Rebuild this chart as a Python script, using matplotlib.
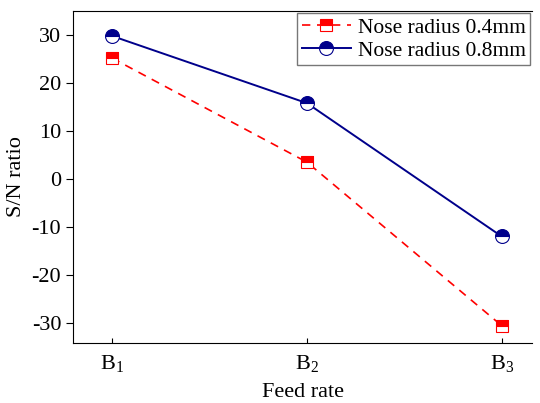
import matplotlib.pyplot as plt

plt.rcParams['font.family'] = ['Liberation Serif', 'DejaVu Serif']
plt.rcParams['mathtext.fontset'] = 'custom'
plt.rcParams['mathtext.rm'] = 'Liberation Serif'
plt.rcParams['axes.unicode_minus'] = False

levels = [1, 2, 3]
tick_labels = [r'$\mathrm{B_1}$', r'$\mathrm{B_2}$', r'$\mathrm{B_3}$']
sn_04 = [25.2, 3.5, -30.6]
sn_08 = [29.8, 15.8, -12.0]

fig = plt.figure(figsize=(5.4, 4.03), dpi=100)
ax = fig.add_axes([73 / 540, 60 / 403, 459 / 540, 332 / 403])

ax.plot(levels, sn_04, '--', color='red', linewidth=1.2, marker='s', markersize=9,
        fillstyle='top', markerfacecoloralt='white', markeredgecolor='red',
        markeredgewidth=0.8, dashes=(5, 4), label='Nose radius 0.4mm')
ax.plot(levels, sn_08, '-', color='#00008B', linewidth=1.4, marker='o', markersize=10,
        fillstyle='top', markerfacecoloralt='white', markeredgecolor='#00008B',
        markeredgewidth=0.8, label='Nose radius 0.8mm')

ax.set_xlim(0.8, 3.155)
ax.set_ylim(-34.2, 35)
ax.set_xticks(levels)
ax.set_xticklabels(tick_labels)
ax.set_yticks([30, 20, 10, 0, -10, -20, -30])
ax.tick_params(axis='x', direction='in', labelsize=16, pad=7)
ax.tick_params(axis='y', direction='out', labelsize=16, length=5)
ax.spines['right'].set_visible(False)
ax.set_xlabel('Feed rate', fontsize=16, labelpad=7)
ax.set_ylabel('S/N ratio', fontsize=16, labelpad=4)

leg = ax.legend(loc='upper right', fontsize=15.5, fancybox=False, edgecolor='#555555',
                handlelength=2.3, borderpad=0.2, labelspacing=0.15, handletextpad=0.3,
                borderaxespad=0.1)
leg.get_frame().set_linewidth(1.0)

fig.savefig('out.png', dpi=100)
